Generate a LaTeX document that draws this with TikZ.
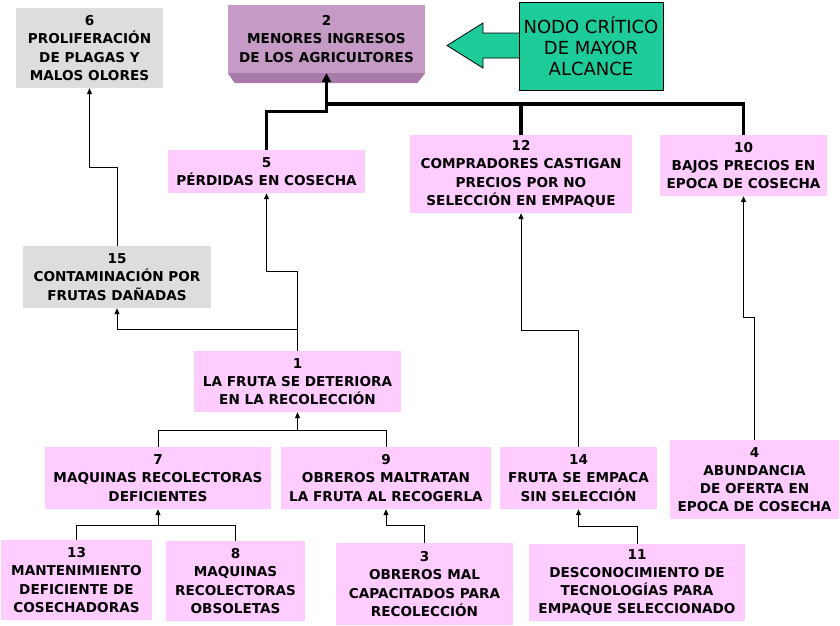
\documentclass[tikz,border=0pt]{standalone}
\usepackage{fontspec}
\setmainfont{DejaVu Sans}
\usepackage{tikz}
\usetikzlibrary{arrows.meta}

\definecolor{rosa}{RGB}{255,204,255}
\definecolor{gris}{RGB}{221,221,221}
\definecolor{lila}{RGB}{197,154,197}
\definecolor{lilaosc}{RGB}{168,122,168}
\definecolor{verde}{RGB}{29,204,153}

\begin{document}
\begin{tikzpicture}[x=1pt,y=-1pt,
  caja/.style={rectangle,fill=rosa,inner sep=0pt,align=center,
    font=\fontsize{13.6}{18.2}\selectfont\bfseries},
  cajagris/.style={caja,fill=gris},
  linea/.style={line width=1pt},
  flecha/.style={linea,-{Triangle[length=6pt,width=5pt]}},
  gruesa/.style={line width=3.2pt}]
  \useasboundingbox (0,0) rectangle (840,625);
  %\fill[white] (0,0) rectangle (840,625);

  % fila superior
  \node[cajagris,minimum width=147,minimum height=80] (n6) at (89.5,48) {6\\PROLIFERACIÓN\\DE PLAGAS Y\\MALOS OLORES};
  \node[caja,fill=lila,minimum width=197,minimum height=68] (n2) at (326.5,39) {2\\MENORES INGRESOS\\DE LOS AGRICULTORES};
  \fill[lilaosc] (n2.south west) -- (n2.south east) -- ([xshift=-8pt,yshift=-10pt]n2.south east) -- ([xshift=7pt,yshift=-10pt]n2.south west) -- cycle;
  \filldraw[fill=verde,draw=black,line width=0.8pt] (519,33) -- (483,33) -- (483,23) -- (447,45.5) -- (483,68) -- (483,58) -- (519,58);
  \node[draw=black,line width=0.8pt,fill=verde,inner sep=0pt,align=center,minimum width=144,minimum height=88,
    font=\fontsize{18}{21}\selectfont] (nc) at (591,46) {NODO CRÍTICO\\DE MAYOR\\ALCANCE};

  \node[caja,minimum width=197,minimum height=43] (n5) at (266.5,171.5) {5\\PÉRDIDAS EN COSECHA};
  \node[caja,minimum width=222,minimum height=78] (n12) at (521,174) {12\\COMPRADORES CASTIGAN\\PRECIOS POR NO\\SELECCIÓN EN EMPAQUE};
  \node[caja,minimum width=167,minimum height=61] (n10) at (743.5,165.5) {10\\BAJOS PRECIOS EN\\EPOCA DE COSECHA};
  \node[cajagris,minimum width=188,minimum height=62] (n15) at (117,277) {15\\CONTAMINACIÓN POR\\FRUTAS DAÑADAS};
  \node[caja,minimum width=207,minimum height=61] (n1) at (297.5,381.5) {1\\LA FRUTA SE DETERIORA\\EN LA RECOLECCIÓN};

  % segunda fila
  \node[caja,minimum width=226,minimum height=62] (n7) at (158,478) {7\\MAQUINAS RECOLECTORAS\\DEFICIENTES};
  \node[caja,minimum width=210,minimum height=62] (n9) at (386,478) {9\\OBREROS MALTRATAN\\LA FRUTA AL RECOGERLA};
  \node[caja,minimum width=157,minimum height=62] (n14) at (578.5,478) {14\\FRUTA SE EMPACA\\SIN SELECCIÓN};
  \node[caja,minimum width=169,minimum height=79] (n4) at (754.5,479.5) {4\\ABUNDANCIA\\DE OFERTA EN\\EPOCA DE COSECHA};

  % fila inferior
  \node[caja,minimum width=151,minimum height=80] (n13) at (76.5,580) {13\\MANTENIMIENTO\\DEFICIENTE DE\\COSECHADORAS};
  \node[caja,minimum width=139,minimum height=80] (n8) at (235.5,581) {8\\MAQUINAS\\RECOLECTORAS\\OBSOLETAS};
  \node[caja,minimum width=177,minimum height=82] (n3) at (424.5,584) {3\\OBREROS MAL\\CAPACITADOS PARA\\RECOLECCIÓN};
  \node[caja,minimum width=216,minimum height=77] (n11) at (637,582.5) {11\\DESCONOCIMIENTO DE\\TECNOLOGÍAS PARA\\EMPAQUE SELECCIONADO};

  \coordinate (c2) at (326.5,104);
  \coordinate (c1) at (297.5,430);
  \coordinate (c7) at (158,525);

  % conectores gruesos
  \draw[gruesa] (n12.north) |- (c2);
  \draw[gruesa] (n10.north) |- (c2);
  \draw[gruesa,-{Triangle[length=9pt,width=9pt]}] (n5.north) -- ++(0,-38) -| (n2.south);

  % conectores finos
  \draw[flecha] (n15.north) -- ++(0,-78) -| (n6.south);
  \draw[flecha] (n1.north) -- ++(0,-79) -| (n5.south);
  \draw[flecha] (n1.north) -- ++(0,-21) -| (n15.south);
  \draw[flecha] (n14.north) -- ++(0,-116) -| (n12.south);
  \draw[flecha] (n4.north) -- ++(0,-122) -| (n10.south);
  \draw[linea] (n7.north) |- (c1) -| (n9.north);
  \draw[flecha] (c1) -- (n1.south);
  \draw[linea] (n13.north) |- (c7) -| (n8.north);
  \draw[flecha] (c7) -- (n7.south);
  \draw[flecha] (n3.north) -- ++(0,-17) -| (n9.south);
  \draw[flecha] (n11.north) -- ++(0,-17) -| (n14.south);
\end{tikzpicture}
\end{document}
